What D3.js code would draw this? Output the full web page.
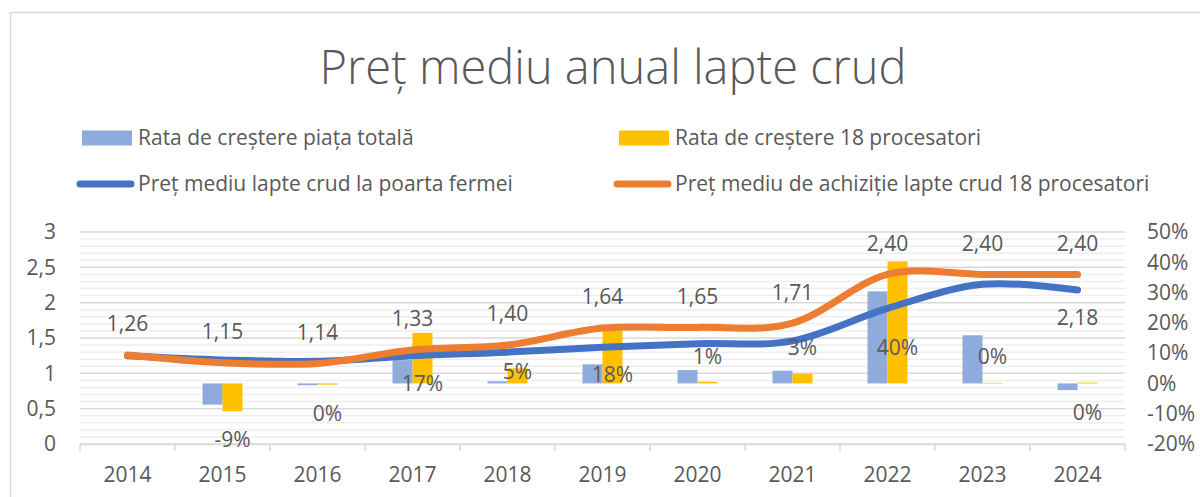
<!DOCTYPE html>
<html>
<head>
<meta charset="utf-8">
<script src="https://cdn.jsdelivr.net/npm/d3@7"></script>
<style>
    body { margin: 0; background: #fff; }
    text { font-family: "Open Sans", sans-serif; fill: #595959; }
</style>
</head>
<body>
<svg id="chart" width="1200" height="497"></svg>
<script>
// --- Data ---
const years = ["2014", "2015", "2016", "2017", "2018", "2019", "2020", "2021", "2022", "2023", "2024"];
// lei / litru
const pretFerma = [1.25, 1.19, 1.17, 1.25, 1.30, 1.37, 1.42, 1.46, 1.92, 2.26, 2.18];
const pretProcesatori = [1.26, 1.15, 1.14, 1.33, 1.40, 1.64, 1.65, 1.71, 2.40, 2.40, 2.40];
// rata de crestere, %
const crestereTotal = [null, -7.0, -0.6, 7.7, 0.7, 6.3, 4.4, 4.2, 30.4, 15.9, -2.2];
const crestere18 = [null, -9.2, -0.4, 16.7, 5.0, 17.6, 0.6, 3.2, 40.3, 0.2, 0.3];
// where the % labels sit, in right-axis units (they were moved by hand in the original)
const crestere18LabelAt = [null, -18.7, -9.9, 0, 3.9, 2.8, 8.8, 11.7, 11.7, 8.8, -9.7];

const leftTicks = [0, 0.5, 1, 1.5, 2, 2.5, 3];
const rightTicks = [-20, -10, 0, 10, 20, 30, 40, 50];

const legendItems = [
    { name: "Rata de creștere piața totală", type: "bar", color: "#8FAADC" },
    { name: "Rata de creștere 18 procesatori", type: "bar", color: "#FFC000" },
    { name: "Preț mediu lapte crud la poarta fermei", type: "line", color: "#4472C4" },
    { name: "Preț mediu de achiziție lapte crud 18 procesatori", type: "line", color: "#ED7D31" }
];

// --- Rendering ---
const svg = d3.select("#chart");
const margin = { top: 232, right: 75, bottom: 53, left: 80 };
const width = 1200, height = 497;
const grid = "#d9d9d9", gridMinor = "#eeeeee";

const x = d3.scaleBand().domain(years).range([margin.left, width - margin.right]);
const yLeft = d3.scaleLinear().domain([0, 3]).range([height - margin.bottom, margin.top]);
const yRight = d3.scaleLinear().domain([-20, 50]).range([height - margin.bottom, margin.top]);
const sub = d3.scaleBand().domain(["total", "18"]).range([0, 40]);
const groupOffset = (x.bandwidth() - 40) / 2;

const comma = d => String(d).replace(".", ",");

// chart border
svg.append("rect")
    .attr("x", 10.5).attr("y", 12.5)
    .attr("width", 1300).attr("height", 600)
    .attr("fill", "none").attr("stroke", grid).attr("stroke-width", 1.5);

// gridlines: minor every 0.1, major every 0.5
svg.append("g").selectAll("line")
    .data(d3.range(1, 30).filter(i => i % 5 !== 0).map(i => i / 10))
    .join("line")
    .attr("x1", margin.left).attr("x2", width - margin.right)
    .attr("y1", d => yLeft(d)).attr("y2", d => yLeft(d))
    .attr("stroke", gridMinor).attr("stroke-width", 1.5);

svg.append("g").selectAll("line")
    .data(leftTicks)
    .join("line")
    .attr("x1", margin.left).attr("x2", width - margin.right)
    .attr("y1", d => yLeft(d)).attr("y2", d => yLeft(d))
    .attr("stroke", grid).attr("stroke-width", 1.5);

// category axis with ticks at band boundaries
const xAxis = svg.append("g")
    .attr("transform", `translate(0,${height - margin.bottom})`)
    .call(d3.axisBottom(x).tickSize(0).tickPadding(23));
xAxis.select(".domain").attr("stroke", grid).attr("stroke-width", 1.5);
xAxis.selectAll("text").style("font-size", "21px");

svg.append("g").selectAll("line")
    .data(years.map(d => x(d)).concat([width - margin.right]))
    .join("line")
    .attr("x1", d => d).attr("x2", d => d)
    .attr("y1", height - margin.bottom).attr("y2", height - margin.bottom + 7)
    .attr("stroke", grid).attr("stroke-width", 1.5);

// left axis
const yAxisL = svg.append("g")
    .attr("transform", `translate(${margin.left},0)`)
    .call(d3.axisLeft(yLeft).tickValues(leftTicks).tickSize(0).tickPadding(24).tickFormat(comma));
yAxisL.select(".domain").remove();
yAxisL.selectAll("text").style("font-size", "21px");

// right axis
const yAxisR = svg.append("g")
    .attr("transform", `translate(${width - margin.right},0)`)
    .call(d3.axisRight(yRight).tickValues(rightTicks).tickSize(0).tickPadding(22).tickFormat(d => d + "%"));
yAxisR.select(".domain").remove();
yAxisR.selectAll("text").style("font-size", "21px");

svg.selectAll(".tick text").attr("fill", "#595959").style("font-family", "'Open Sans', sans-serif");

// bars
const bars = svg.append("g");
years.forEach((yr, i) => {
    [["total", crestereTotal[i], "#8FAADC"], ["18", crestere18[i], "#FFC000"]].forEach(([k, v, c]) => {
        if (v === null) return;
        bars.append("rect")
            .attr("x", x(yr) + groupOffset + sub(k))
            .attr("width", sub.bandwidth())
            .attr("y", yRight(Math.max(0, v)))
            .attr("height", Math.abs(yRight(v) - yRight(0)))
            .attr("fill", c);
    });
});

// lines
const line = d3.line()
    .x((d, i) => x(years[i]) + x.bandwidth() / 2)
    .y(d => yLeft(d))
    .curve(d3.curveCardinal.tension(0));

[[pretFerma, "#4472C4"], [pretProcesatori, "#ED7D31"]].forEach(([vals, c]) => {
    svg.append("path")
        .datum(vals)
        .attr("fill", "none")
        .attr("stroke", c)
        .attr("stroke-width", 7)
        .attr("stroke-linecap", "round")
        .attr("d", line);
});

// labels
const labels = svg.append("g").style("font-size", "21px").attr("text-anchor", "middle");

labels.selectAll(".lp")
    .data(pretProcesatori)
    .join("text")
    .attr("x", (d, i) => x(years[i]) + x.bandwidth() / 2)
    .attr("y", d => yLeft(d) - 31)
    .attr("dy", "0.35em")
    .text(d => comma(d3.format(".2f")(d)));

const last = pretFerma.length - 1;
labels.append("text")
    .attr("x", x(years[last]) + x.bandwidth() / 2)
    .attr("y", yLeft(pretFerma[last]) + 28)
    .attr("dy", "0.35em")
    .text(comma(d3.format(".2f")(pretFerma[last])));

years.forEach((yr, i) => {
    if (crestere18[i] === null) return;
    const r = Math.round(crestere18[i]);
    labels.append("text")
        .attr("x", x(yr) + groupOffset + sub("18") + sub.bandwidth() / 2)
        .attr("y", yRight(crestere18LabelAt[i]))
        .attr("dy", "0.35em")
        .text((r === 0 ? 0 : r) + "%");
});

// legend
const legend = svg.append("g").style("font-size", "21px");
legendItems.forEach((item, i) => {
    const lx = i % 2 === 0 ? 82 : 619;
    const ly = i < 2 ? 138 : 184;
    const g = legend.append("g").attr("transform", `translate(${lx},${ly})`);
    if (item.type === "bar") {
        g.append("rect").attr("x", 0).attr("y", -7.5).attr("width", 50).attr("height", 15).attr("fill", item.color);
    } else {
        g.append("line").attr("x1", -2).attr("x2", 49).attr("y1", 0).attr("y2", 0)
            .attr("stroke", item.color).attr("stroke-width", 7).attr("stroke-linecap", "round");
    }
    g.append("text").attr("x", 56).attr("dy", "0.35em").text(item.name);
});

// title
svg.append("text")
    .attr("x", 613).attr("y", 68)
    .attr("dy", "0.35em")
    .attr("text-anchor", "middle")
    .style("font-size", "47px")
    .style("font-weight", 300)
    .text("Preț mediu anual lapte crud");
</script>
</body>
</html>
